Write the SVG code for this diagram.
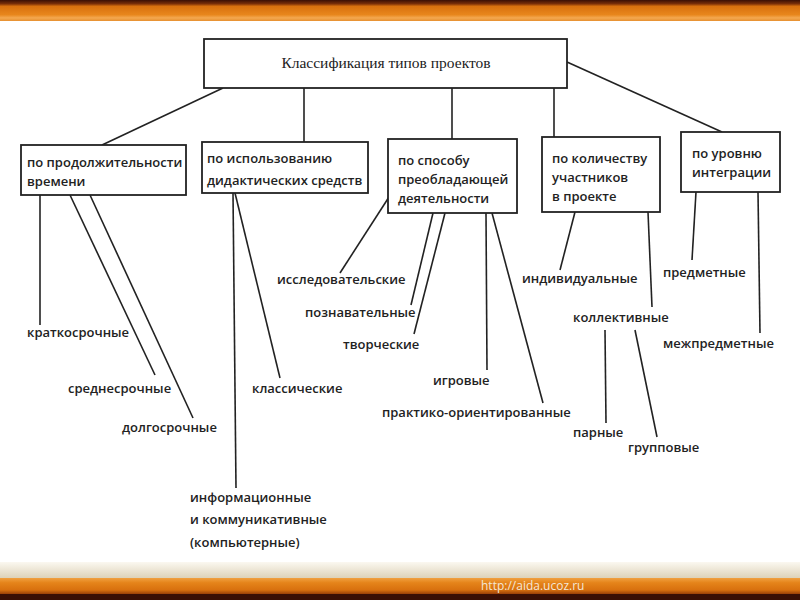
<svg xmlns="http://www.w3.org/2000/svg" width="800" height="600" viewBox="0 0 800 600">
<defs>
<linearGradient id="topband" x1="0" y1="0" x2="0" y2="1">
<stop offset="0" stop-color="#3a0f05"/>
<stop offset="0.18" stop-color="#7a2e08"/>
<stop offset="0.3" stop-color="#d8700e"/>
<stop offset="0.7" stop-color="#e8861c"/>
<stop offset="0.85" stop-color="#f4a850"/>
<stop offset="1" stop-color="#e69030"/>
</linearGradient>
<linearGradient id="beige" x1="0" y1="0" x2="0" y2="1">
<stop offset="0" stop-color="#fbf8f0"/>
<stop offset="1" stop-color="#ddd2b8"/>
</linearGradient>
<linearGradient id="botband" x1="0" y1="0" x2="0" y2="1">
<stop offset="0" stop-color="#f0a040"/>
<stop offset="0.3" stop-color="#e5841a"/>
<stop offset="0.75" stop-color="#d8700e"/>
<stop offset="1" stop-color="#9a4008"/>
</linearGradient>
</defs>
<style>
.box{fill:#fff;stroke:#222;stroke-width:1.8}
.ln{stroke:#222;stroke-width:1.6;fill:none}
.t{font-family:"Open Sans","Liberation Sans",sans-serif;font-size:13px;fill:#222;font-weight:600}
.tt{font-family:"Liberation Serif","Times New Roman",serif;font-size:15.5px;fill:#222}
.url{font-family:"Open Sans","Liberation Sans",sans-serif;font-size:12px;fill:#f3e6d6}
</style>
<rect x="0" y="0" width="800" height="600" fill="#ffffff"/>
<rect x="0" y="0" width="800" height="21" fill="url(#topband)"/>
<rect x="0" y="562" width="800" height="16" fill="url(#beige)"/>
<rect x="0" y="578" width="800" height="16" fill="url(#botband)"/>
<rect x="0" y="594" width="800" height="6" fill="#3a0f05"/>
<text class="url" x="481" y="590">http://aida.ucoz.ru</text>

<g id="connectors">
<line class="ln" x1="223" y1="88" x2="102" y2="145"/>
<line class="ln" x1="304" y1="88" x2="304" y2="142"/>
<line class="ln" x1="452" y1="88" x2="452" y2="139"/>
<line class="ln" x1="554" y1="88" x2="554" y2="137"/>
<line class="ln" x1="567" y1="62" x2="722" y2="132"/>
<line class="ln" x1="40" y1="195" x2="40" y2="325"/>
<line class="ln" x1="70" y1="195" x2="155" y2="375"/>
<line class="ln" x1="90" y1="195" x2="193" y2="418"/>
<line class="ln" x1="233" y1="193" x2="236" y2="488"/>
<line class="ln" x1="235" y1="193" x2="280" y2="378"/>
<line class="ln" x1="389" y1="197" x2="340" y2="273"/>
<line class="ln" x1="433" y1="213" x2="411" y2="305"/>
<line class="ln" x1="445" y1="213" x2="414" y2="334"/>
<line class="ln" x1="486" y1="213" x2="487" y2="370"/>
<line class="ln" x1="492" y1="213" x2="543" y2="403"/>
<line class="ln" x1="575" y1="212" x2="560" y2="270"/>
<line class="ln" x1="648" y1="212" x2="652" y2="307"/>
<line class="ln" x1="605" y1="330" x2="606" y2="423"/>
<line class="ln" x1="635" y1="330" x2="657" y2="437"/>
<line class="ln" x1="696" y1="192" x2="692" y2="260"/>
<line class="ln" x1="758" y1="192" x2="760" y2="333"/>
</g>

<g id="title">
<rect class="box" x="204" y="39" width="363" height="49"/>
<text class="tt" x="386" y="68" text-anchor="middle">Классификация типов проектов</text>
</g>
<g id="by-duration">
<rect class="box" x="21" y="145" width="165" height="50"/>
<text class="t" x="27" y="167">по продолжительности</text>
<text class="t" x="27" y="186">времени</text>
</g>
<g id="by-means">
<rect class="box" x="202" y="142" width="166" height="51"/>
<text class="t" x="207" y="163">по использованию</text>
<text class="t" x="207" y="185">дидактических средств</text>
</g>
<g id="by-activity">
<rect class="box" x="388" y="139" width="129" height="74"/>
<text class="t" x="398" y="165">по способу</text>
<text class="t" x="398" y="184">преобладающей</text>
<text class="t" x="398" y="203">деятельности</text>
</g>
<g id="by-participants">
<rect class="box" x="542" y="137" width="118" height="75"/>
<text class="t" x="552" y="163">по количеству</text>
<text class="t" x="552" y="182">участников</text>
<text class="t" x="552" y="201">в проекте</text>
</g>
<g id="by-integration">
<rect class="box" x="681" y="132" width="99" height="60"/>
<text class="t" x="692" y="158">по уровню</text>
<text class="t" x="692" y="177">интеграции</text>
</g>

<g id="short"><text class="t" x="27" y="337">краткосрочные</text></g>
<g id="medium"><text class="t" x="68" y="393">среднесрочные</text></g>
<g id="long"><text class="t" x="122" y="432">долгосрочные</text></g>
<g id="classic"><text class="t" x="252" y="393">классические</text></g>
<g id="info">
<text class="t" x="190" y="502">информационные</text>
<text class="t" x="190" y="524">и коммуникативные</text>
<text class="t" x="190" y="547">(компьютерные)</text>
</g>
<g id="research"><text class="t" x="277" y="284">исследовательские</text></g>
<g id="cognitive"><text class="t" x="305" y="317">познавательные</text></g>
<g id="creative"><text class="t" x="343" y="349">творческие</text></g>
<g id="game"><text class="t" x="433" y="385">игровые</text></g>
<g id="practice"><text class="t" x="382" y="417">практико-ориентированные</text></g>
<g id="individual"><text class="t" x="522" y="283">индивидуальные</text></g>
<g id="collective"><text class="t" x="573" y="322">коллективные</text></g>
<g id="pair"><text class="t" x="573" y="437">парные</text></g>
<g id="group"><text class="t" x="628" y="452">групповые</text></g>
<g id="subject"><text class="t" x="663" y="277">предметные</text></g>
<g id="intersubject"><text class="t" x="663" y="348">межпредметные</text></g>
</svg>
